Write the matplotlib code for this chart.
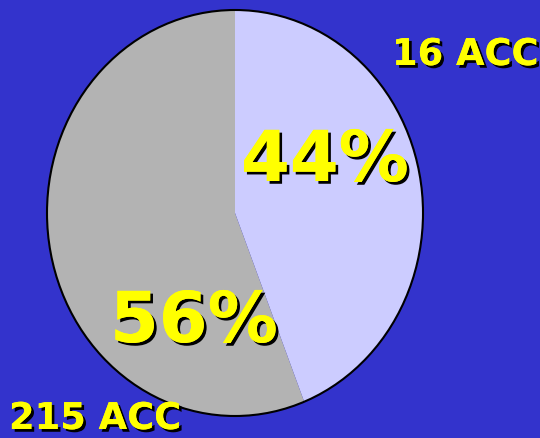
import matplotlib.pyplot as plt
import matplotlib.patheffects as pe

shares = [44, 56]
pct_labels = ["44%", "56%"]
count_labels = ["16 ACC", "215 ACC"]
colors = ["#CCCCFF", "#B3B3B3"]

W, H = 540, 438
fig = plt.figure(figsize=(W / 100, H / 100), dpi=100)
fig.patch.set_facecolor("#3333CC")

# axes box = bounding box of the elliptical pie, in pixels
ax = fig.add_axes([47 / W, (H - 416) / H, 376 / W, 406 / H])
wedges, _ = ax.pie(shares, colors=colors, startangle=90, counterclock=False,
                   radius=1.0, wedgeprops=dict(linewidth=0))
ax.set_aspect("auto")
ax.set_xlim(-1, 1)
ax.set_ylim(-1, 1)
ax.axis("off")

outline = plt.matplotlib.patches.Ellipse((0, 0), 2, 2, fill=False,
                                         edgecolor="black", linewidth=1.5,
                                         clip_on=False)
ax.add_patch(outline)

shadow = [pe.withSimplePatchShadow(offset=(2.0, -2.0), shadow_rgbFace="black", alpha=1.0),
          pe.Normal()]


def px_text(x, y, s, size):
    fig.text(x / W, 1 - y / H, s, color="#FFFF00", fontsize=size,
             fontweight="bold", family="DejaVu Sans", ha="left", va="baseline",
             path_effects=shadow)


px_text(241, 181, pct_labels[0], 50.5)
px_text(110, 342, pct_labels[1], 50.5)
px_text(392, 65, count_labels[0], 26.5)
px_text(9, 429, count_labels[1], 26.5)

fig.savefig("out.png", dpi=100, facecolor=fig.get_facecolor())
